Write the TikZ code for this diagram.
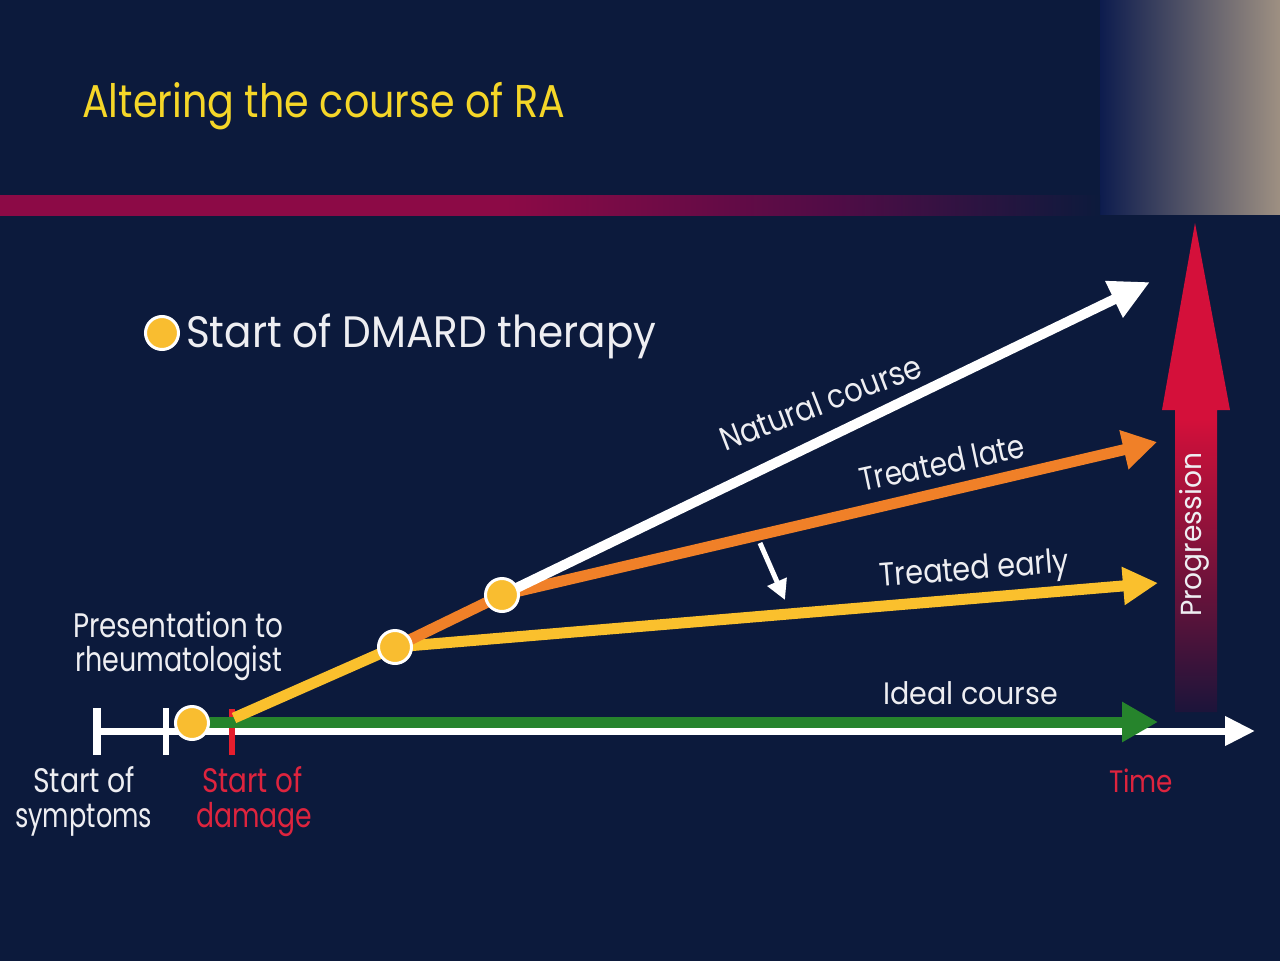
\documentclass[tikz,border=0pt]{standalone}
\usepackage{fontspec}
\setmainfont{Poppins}
\usetikzlibrary{arrows.meta}
\definecolor{navy}{RGB}{12,26,60}
\definecolor{titleyel}{RGB}{245,214,40}
\definecolor{txtwhite}{RGB}{238,238,242}
\definecolor{dotyel}{RGB}{249,189,48}
\definecolor{lyel}{RGB}{250,192,45}
\definecolor{lorange}{RGB}{240,128,40}
\definecolor{ggreen}{RGB}{38,132,44}
\definecolor{redtxt}{RGB}{222,36,62}
\definecolor{redtick}{RGB}{230,30,45}
\definecolor{progred}{RGB}{212,16,58}
\definecolor{progbot}{RGB}{28,20,58}
\definecolor{bandred}{RGB}{140,10,70}
\definecolor{bandmid}{RGB}{80,12,70}
\definecolor{tlblue}{RGB}{13,28,78}
\definecolor{tlmid}{RGB}{98,90,112}
\definecolor{tlgrey}{RGB}{158,144,130}
\pgfdeclareverticalshading{progshade}{100bp}{color(0bp)=(progbot); color(25bp)=(progbot); color(55bp)=(progred); color(100bp)=(progred)}
\pgfdeclarehorizontalshading{bandshade}{100bp}{color(0bp)=(bandred); color(25bp)=(bandred); color(48bp)=(bandred); color(63bp)=(bandmid); color(75bp)=(navy); color(100bp)=(navy)}
\newcommand{\fittext}[3]{\resizebox{#1}{\height}{\fontsize{#2}{#2}\selectfont #3}}
\begin{document}
\begin{tikzpicture}[x=1pt,y=-1pt,
  dot/.style={circle,inner sep=0pt,minimum size=33pt,fill=dotyel,draw=white,line width=3pt},
  lbl/.style={inner sep=0pt,text=txtwhite,anchor=base west},
  rlbl/.style={inner sep=0pt,text=redtxt,anchor=base west},
  axisarr/.style={draw=white,line width=7pt,-{Triangle[length=30pt,width=28pt]}},
  greenarr/.style={draw=ggreen,line width=11pt,-{Triangle[length=36pt,width=38pt]}},
  yelarr/.style={draw=lyel,line width=11pt,line join=round,-{Triangle[length=35pt,width=36pt]}},
  orarr/.style={draw=lorange,line width=11pt,line join=round,-{Triangle[length=34pt,width=38pt]}},
  whitearr/.style={draw=white,line width=10pt,-{Triangle[length=40pt,width=38pt]}},
  smallarr/.style={draw=white,line width=5pt,-{Triangle[length=20pt,width=20pt]}},
  tickw/.style={draw=white,line width=7pt}
]
\useasboundingbox (0,0) rectangle (1280,961);
\fill[navy] (0,0) rectangle (1280,961);
% header decorations
\shade[left color=tlblue,middle color=tlmid,right color=tlgrey] (1100,0) rectangle (1280,214);
\shade[shading=bandshade] (0,195) rectangle (1100,215);
% title
\node[inner sep=0pt,anchor=base west,text=titleyel] (title) at (82,117) {\fittext{483pt}{46}{Altering the course of RA}};
% legend
\node[dot] (legdot) at (162,333) {};
\node[lbl] (legtxt) at (186,347) {\fittext{470pt}{44}{Start of DMARD therapy}};
% progression arrow
\shade[shading=progshade] (1195,223) -- (1230,410) -- (1217,410) -- (1217,712) -- (1175,712) -- (1175,410) -- (1162,410) -- cycle;
\node[lbl,rotate=90] (prog) at (1201,617) {\fittext{164pt}{29}{Progression}};
% key coordinates
\coordinate (axs) at (97,731);
\coordinate (axe) at (1255,731);
\coordinate (p0) at (192,723);
\coordinate (p1) at (395,647);
\coordinate (p2) at (502,595);
\coordinate (gs) at (205,722);
\coordinate (gt) at (1158,722);
\coordinate (ys) at (234,718);
\coordinate (yt) at (1158,583);
\coordinate (ot) at (1157,442);
\coordinate (wt) at (1150,282);
\coordinate (sa) at (760,543);
\coordinate (sb) at (785,600);
% time axis
\draw[axisarr] (axs) -- (axe);
\draw[tickw,line width=8pt] (97,708) -- (97,755);
\draw[tickw,line width=6pt] (166,708) -- (166,755);
\draw[draw=redtick,line width=6pt] (232,709) -- (232,755);
% courses
\draw[greenarr] (gs) -- (gt);
\draw[yelarr] (ys) -- (p1) -- (yt);
\draw[orarr] (p1) -- (p2) -- (ot);
\draw[whitearr] (p2) -- (wt);
\draw[smallarr] (sa) -- (sb);
% DMARD start dots
\node[dot] (d0) at (p0) {};
\node[dot] (d1) at (p1) {};
\node[dot] (d2) at (p2) {};
% labels
\node[lbl] (pres1) at (73,637) {\fittext{210pt}{34}{Presentation to}};
\node[lbl] (pres2) at (75,671) {\fittext{207pt}{34}{rheumatologist}};
\node[lbl] (sym1) at (33,792) {\fittext{102pt}{34}{Start of}};
\node[lbl] (sym2) at (15,827) {\fittext{137pt}{34}{symptoms}};
\node[rlbl] (dam1) at (202,792) {\fittext{100pt}{34}{Start of}};
\node[rlbl] (dam2) at (196,827) {\fittext{116pt}{34}{damage}};
\node[rlbl] (time) at (1109,792) {\fittext{64pt}{31}{Time}};
\node[lbl] (ideal) at (883,704) {\fittext{175pt}{31}{Ideal course}};
\node[lbl,rotate=4.5] (early) at (880,587) {\fittext{190pt}{33}{Treated early}};
\node[lbl,rotate=12] (late) at (862,492) {\fittext{168pt}{33}{Treated late}};
\node[lbl,rotate=21] (natural) at (725,452) {\fittext{213pt}{33}{Natural course}};
\end{tikzpicture}
\end{document}
